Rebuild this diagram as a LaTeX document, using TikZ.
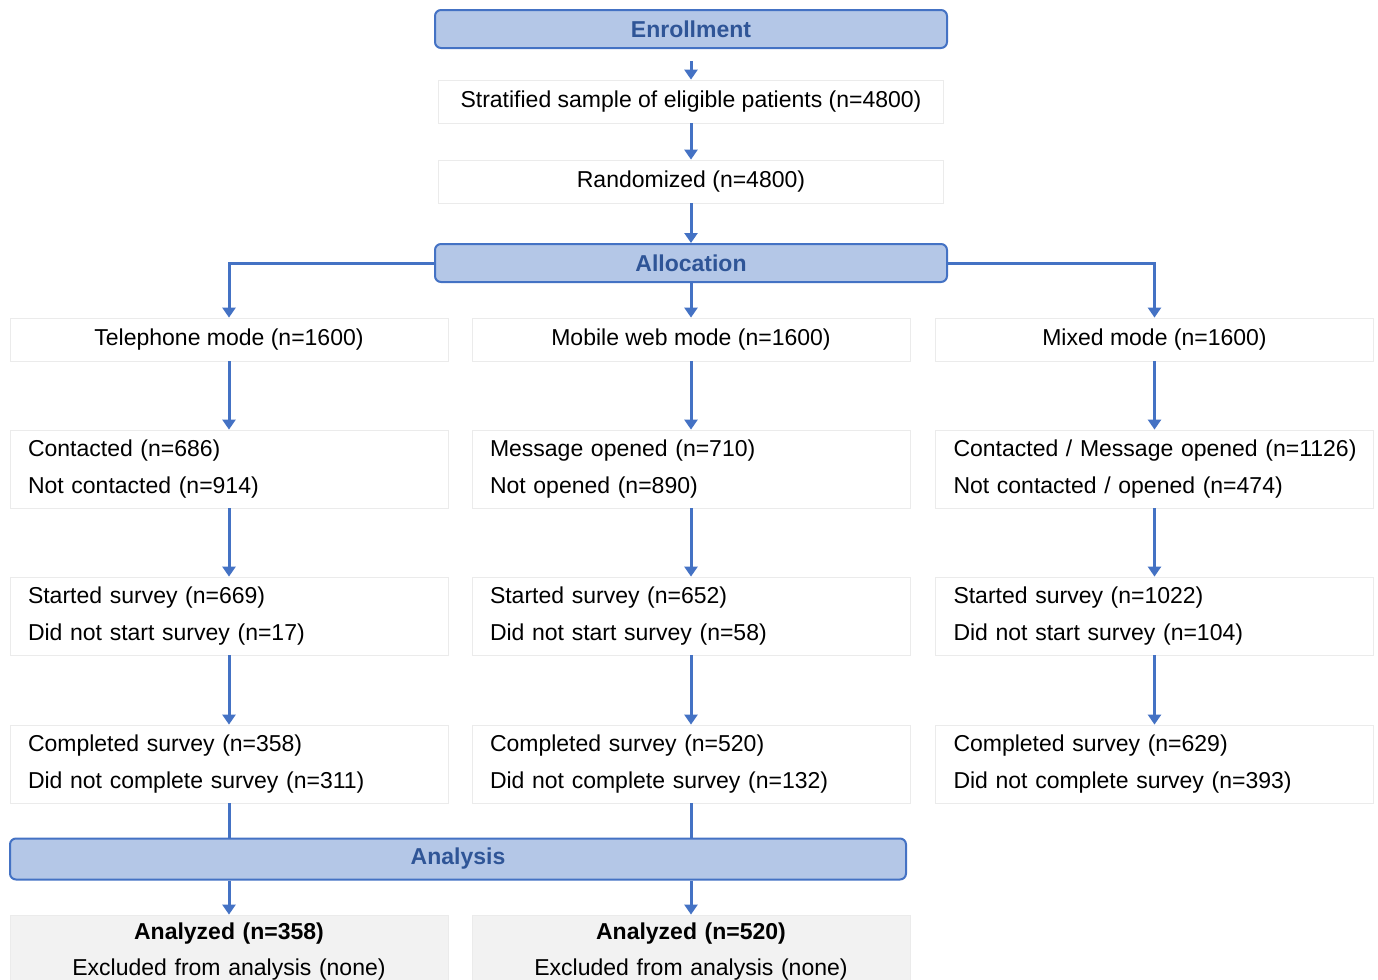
\documentclass[tikz,border=0pt]{standalone}
\usepackage{fontspec}
\setmainfont{Liberation Sans}
\usetikzlibrary{positioning,arrows.meta}
\definecolor{flowblue}{RGB}{68,114,196}
\definecolor{headfill}{RGB}{180,199,231}
\definecolor{headtext}{RGB}{47,85,151}

\begin{document}
\begin{tikzpicture}[x=0.5pt, y=-0.5pt,
  every node/.style={font=\fontsize{11.5}{18.5}\selectfont, inner sep=0pt},
  headbox/.style={draw=flowblue, line width=1pt, fill=headfill, rounded corners=3pt, text=headtext, font=\fontsize{11.5}{14}\selectfont\bfseries, minimum height=19pt},
  stepbox/.style={draw=black!8, fill=white, minimum width=252.5pt, minimum height=21.5pt},
  modebox/.style={draw=black!8, fill=white, minimum width=219pt, minimum height=21.5pt},
  countbox/.style={draw=black!8, fill=white, text width=201pt, inner xsep=9pt, minimum height=39pt, align=left},
  resultbox/.style={draw=black!8, fill=black!5, text width=219pt, minimum height=37pt, align=center, font=\fontsize{11.5}{18}\selectfont},
  arr/.style={-{Triangle[width=6.5pt,length=5pt]}, draw=flowblue, line width=1.5pt},
  link/.style={draw=flowblue, line width=1.5pt}]
\clip (0,0) rectangle (1378,980);

% Enrollment
\node[headbox, minimum width=256pt] (enroll) at (691,29) {Enrollment};
\node[stepbox] (sample) at (691,101.5) {Stratified sample of eligible patients (n=4800)};
\node[stepbox] (rand) at (691,181.5) {Randomized (n=4800)};

% Allocation
\node[headbox, minimum width=256pt] (alloc) at (691,263) {Allocation};
\node[modebox] (tel) at (229,339.5) {Telephone mode (n=1600)};
\node[modebox] (web) at (691,339.5) {Mobile web mode (n=1600)};
\node[modebox] (mix) at (1154.5,339.5) {Mixed mode (n=1600)};

% Follow-up per mode
\node[countbox] (telReach) at (229,469) {Contacted (n=686)\\Not contacted (n=914)};
\node[countbox] (webReach) at (691,469) {Message opened (n=710)\\Not opened (n=890)};
\node[countbox] (mixReach) at (1154.5,469) {\makebox[201pt][l]{Contacted / Message opened (n=1126)}\\Not contacted / opened (n=474)};

\node[countbox] (telStart) at (229,616) {Started survey (n=669)\\Did not start survey (n=17)};
\node[countbox] (webStart) at (691,616) {Started survey (n=652)\\Did not start survey (n=58)};
\node[countbox] (mixStart) at (1154.5,616) {Started survey (n=1022)\\Did not start survey (n=104)};

\node[countbox] (telDone) at (229,764) {Completed survey (n=358)\\Did not complete survey (n=311)};
\node[countbox] (webDone) at (691,764) {Completed survey (n=520)\\Did not complete survey (n=132)};
\node[countbox] (mixDone) at (1154.5,764) {Completed survey (n=629)\\Did not complete survey (n=393)};

% Analysis
\node[headbox, minimum width=448pt, minimum height=20.5pt] (anal) at (458,859) {Analysis};
\node[resultbox] (telRes) at (229,952) {\textbf{Analyzed (n=358)}\\Excluded from analysis (none)};
\node[resultbox] (webRes) at (691,952) {\textbf{Analyzed (n=520)}\\Excluded from analysis (none)};

% Arrows
\draw[arr, shorten <=6pt] (enroll) -- (sample);
\draw[arr] (sample) -- (rand);
\draw[arr] (rand) -- (alloc);
\draw[arr] (alloc.west) -| (tel.north);
\draw[arr] (alloc) -- (web);
\draw[arr] (alloc.east) -| (mix.north);

\draw[arr] (tel) -- (telReach);
\draw[arr] (web) -- (webReach);
\draw[arr] (mix) -- (mixReach);
\draw[arr] (telReach) -- (telStart);
\draw[arr] (webReach) -- (webStart);
\draw[arr] (mixReach) -- (mixStart);
\draw[arr] (telStart) -- (telDone);
\draw[arr] (webStart) -- (webDone);
\draw[arr] (mixStart) -- (mixDone);

\draw[link] (telDone) -- (telDone |- anal.north);
\draw[link] (webDone) -- (webDone |- anal.north);
\draw[arr] (anal.south -| telRes.north) -- (telRes);
\draw[arr] (anal.south -| webRes.north) -- (webRes);
\end{tikzpicture}
\end{document}
